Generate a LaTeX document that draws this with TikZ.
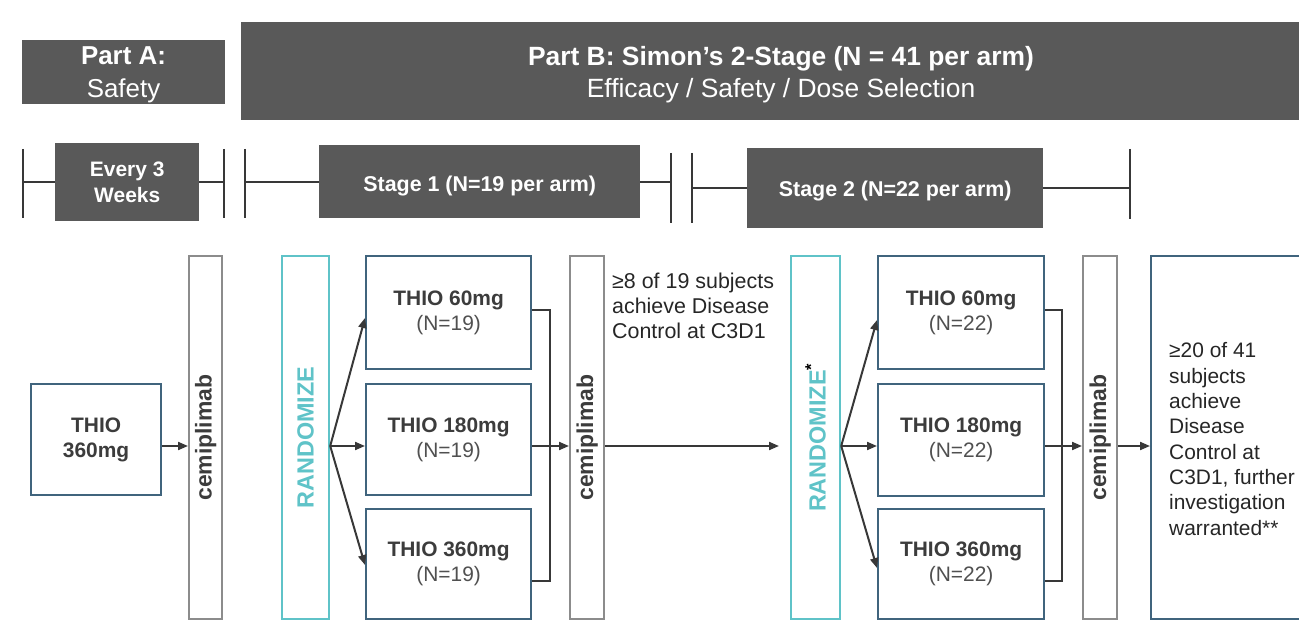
\documentclass[tikz,border=0pt]{standalone}
\usepackage{fontspec}
\setmainfont{Liberation Sans}
\usetikzlibrary{arrows.meta}
\definecolor{hdr}{RGB}{89,89,89}
\definecolor{bblue}{RGB}{64,100,125}
\definecolor{bgray}{RGB}{140,140,140}
\definecolor{tealc}{RGB}{95,195,200}
\definecolor{txt}{RGB}{60,60,60}
\definecolor{txtl}{RGB}{80,80,80}
\definecolor{ln}{RGB}{56,56,56}
\newcommand\fsz[2]{\fontsize{#1}{#2}\selectfont}
\begin{document}
\begin{tikzpicture}[x=1bp,y=-1bp,
  hdrbox/.style={fill=hdr, text=white, inner sep=0pt, anchor=north west, align=center},
  boxbase/.style={fill=white, line width=2.2bp, inner sep=0pt, anchor=north west, align=center},
  armbox/.style={boxbase, draw=bblue, text=txt, font=\fsz{21}{25}},
  cembox/.style={boxbase, draw=bgray},
  randbox/.style={boxbase, draw=tealc},
  vlabel/.style={rotate=90, inner sep=0pt, font=\fsz{23}{26}\bfseries, text=txt},
  rlabel/.style={rotate=90, inner sep=0pt, font=\fsz{23.5}{26}\bfseries, text=tealc},
  conn/.style={draw=ln, line width=2bp, -{Triangle[length=10bp,width=8bp]}},
  plain/.style={draw=ln, line width=2bp},
  tl/.style={draw=ln, line width=2.4bp}]
\useasboundingbox (0,0) rectangle (1299,620);

% ---------- headers ----------
\node[hdrbox, minimum width=203bp, minimum height=64bp] (partA) at (22,40) {};
\node[text=white, align=center, inner sep=0pt, font=\fsz{26}{33}] (partAt) at (123.5,75)
  {\bfseries Part A:\\Safety};
\node[hdrbox, minimum width=1058bp, minimum height=98bp] (partB) at (241,22) {};
\node[text=white, align=center, inner sep=0pt, font=\fsz{26.5}{31.5}] (partBt) at (781,74.5)
  {\bfseries Part B: Simon’s 2-Stage (N = 41 per arm)\\Efficacy / Safety / Dose Selection};

% ---------- timelines ----------
\node[hdrbox, minimum width=144bp, minimum height=78bp, font=\fsz{21}{26}\bfseries] (ev) at (55,143) {Every 3\\Weeks};
\node[hdrbox, minimum width=321bp, minimum height=73bp, font=\fsz{21.5}{26}\bfseries, text height=20.4bp, text depth=0pt] (st1) at (319,145) {Stage 1 (N=19 per arm)};
\node[hdrbox, minimum width=296bp, minimum height=80bp, font=\fsz{21.5}{26}\bfseries, text height=17.4bp, text depth=0pt] (st2) at (747,148) {Stage 2 (N=22 per arm)};

\coordinate (b1) at (23,182);
\coordinate (b2) at (224,182);
\coordinate (b3) at (245,182);
\coordinate (b4) at (671,182);
\coordinate (b5) at (692,188);
\coordinate (b6) at (1130,188);
\draw[tl] (23,149) -- (23,218);
\draw[tl] (224,149) -- (224,218);
\draw[tl] (245,149) -- (245,218);
\draw[tl] (671,153) -- (671,223);
\draw[tl] (692,153) -- (692,223);
\draw[tl] (1130,149) -- (1130,219);
\draw[tl] (b1) -- (ev.west |- b1);
\draw[tl] (ev.east |- b2) -- (b2);
\draw[tl] (b3) -- (st1.west |- b3);
\draw[tl] (st1.east |- b4) -- (b4);
\draw[tl] (b5) -- (st2.west |- b5);
\draw[tl] (st2.east |- b6) -- (b6);

% ---------- Part A ----------
\node[armbox, minimum width=130bp, minimum height=111bp, font=\fsz{21}{25}\bfseries] (t0) at (30,383) {THIO\\360mg};
\node[cembox, minimum width=33bp, minimum height=363bp] (cem1) at (188,255) {};
\node[vlabel] (cem1t) at (cem1.center) {cemiplimab};

% ---------- Stage 1 ----------
\node[randbox, minimum width=47bp, minimum height=363bp] (rand1) at (281,255) {};
\node[rlabel] (rand1t) at (rand1.center) {RANDOMIZE};
\node[armbox, minimum width=165bp, minimum height=113bp] (s1a) at (365,255) {\textbf{THIO 60mg}\\\textcolor{txtl}{(N=19)}};
\node[armbox, minimum width=165bp, minimum height=111bp] (s1b) at (365,383) {\textbf{THIO 180mg}\\\textcolor{txtl}{(N=19)}};
\node[armbox, minimum width=165bp, minimum height=110bp] (s1c) at (365,508) {\textbf{THIO 360mg}\\\textcolor{txtl}{(N=19)}};
\node[cembox, minimum width=34bp, minimum height=363bp] (cem2) at (569,255) {};
\node[vlabel] (cem2t) at (cem2.center) {cemiplimab};
\node[anchor=west, align=left, inner sep=0pt, text=black!85, font=\fsz{21.5}{25}] (cond1) at (612,306)
  {≥8 of 19 subjects\\achieve Disease\\Control at C3D1};

% ---------- Stage 2 ----------
\node[randbox, minimum width=49bp, minimum height=363bp] (rand2) at (790,255) {};
\node[rlabel] (rand2t) at (rand2.center) {RANDOMIZE\textcolor{black}{\textsuperscript{*}}};
\node[armbox, minimum width=166bp, minimum height=113bp] (s2a) at (877,255) {\textbf{THIO 60mg}\\\textcolor{txtl}{(N=22)}};
\node[armbox, minimum width=166bp, minimum height=112bp] (s2b) at (877,383) {\textbf{THIO 180mg}\\\textcolor{txtl}{(N=22)}};
\node[armbox, minimum width=166bp, minimum height=110bp] (s2c) at (877,508) {\textbf{THIO 360mg}\\\textcolor{txtl}{(N=22)}};
\node[cembox, minimum width=34bp, minimum height=363bp] (cem3) at (1082,255) {};
\node[vlabel] (cem3t) at (cem3.center) {cemiplimab};
\node[boxbase, draw=bblue, minimum width=152bp, minimum height=363bp] (fin) at (1150,255) {};
\node[anchor=west, align=left, inner sep=0pt, text=black!85, font=\fsz{21}{25.4}] (fint) at (1169,439)
  {≥20 of 41\\subjects\\achieve\\Disease\\Control at\\C3D1, further\\investigation\\warranted**};

% ---------- connectors ----------
\coordinate (mid) at (0,446);
\coordinate (up1) at (0,318);
\coordinate (dn1) at (0,565);
\coordinate (up2) at (0,320);
\coordinate (dn2) at (0,568);
\coordinate (bt) at (0,310);
\coordinate (bb) at (0,581);
\coordinate (bx1) at (550,0);
\coordinate (bx2) at (1062,0);

\draw[conn] (t0.east |- mid) -- (cem1.west |- mid);

\draw[conn] (rand1.east |- mid) -- (s1a.west |- up1);
\draw[conn] (rand1.east |- mid) -- (s1b.west |- mid);
\draw[conn] (rand1.east |- mid) -- (s1c.west |- dn1);
\draw[plain] (s1a.east |- bt) -- (bx1 |- bt) -- (bx1 |- bb) -- (s1c.east |- bb);
\draw[conn] (s1b.east |- mid) -- (cem2.west |- mid);
\draw[conn, shorten >=11bp] (cem2.east |- mid) -- (rand2.west |- mid);

\draw[conn] (rand2.east |- mid) -- (s2a.west |- up2);
\draw[conn] (rand2.east |- mid) -- (s2b.west |- mid);
\draw[conn] (rand2.east |- mid) -- (s2c.west |- dn2);
\draw[plain] (s2a.east |- bt) -- (bx2 |- bt) -- (bx2 |- bb) -- (s2c.east |- bb);
\draw[conn] (s2b.east |- mid) -- (cem3.west |- mid);
\draw[conn] (cem3.east |- mid) -- (fin.west |- mid);
\end{tikzpicture}
\end{document}
